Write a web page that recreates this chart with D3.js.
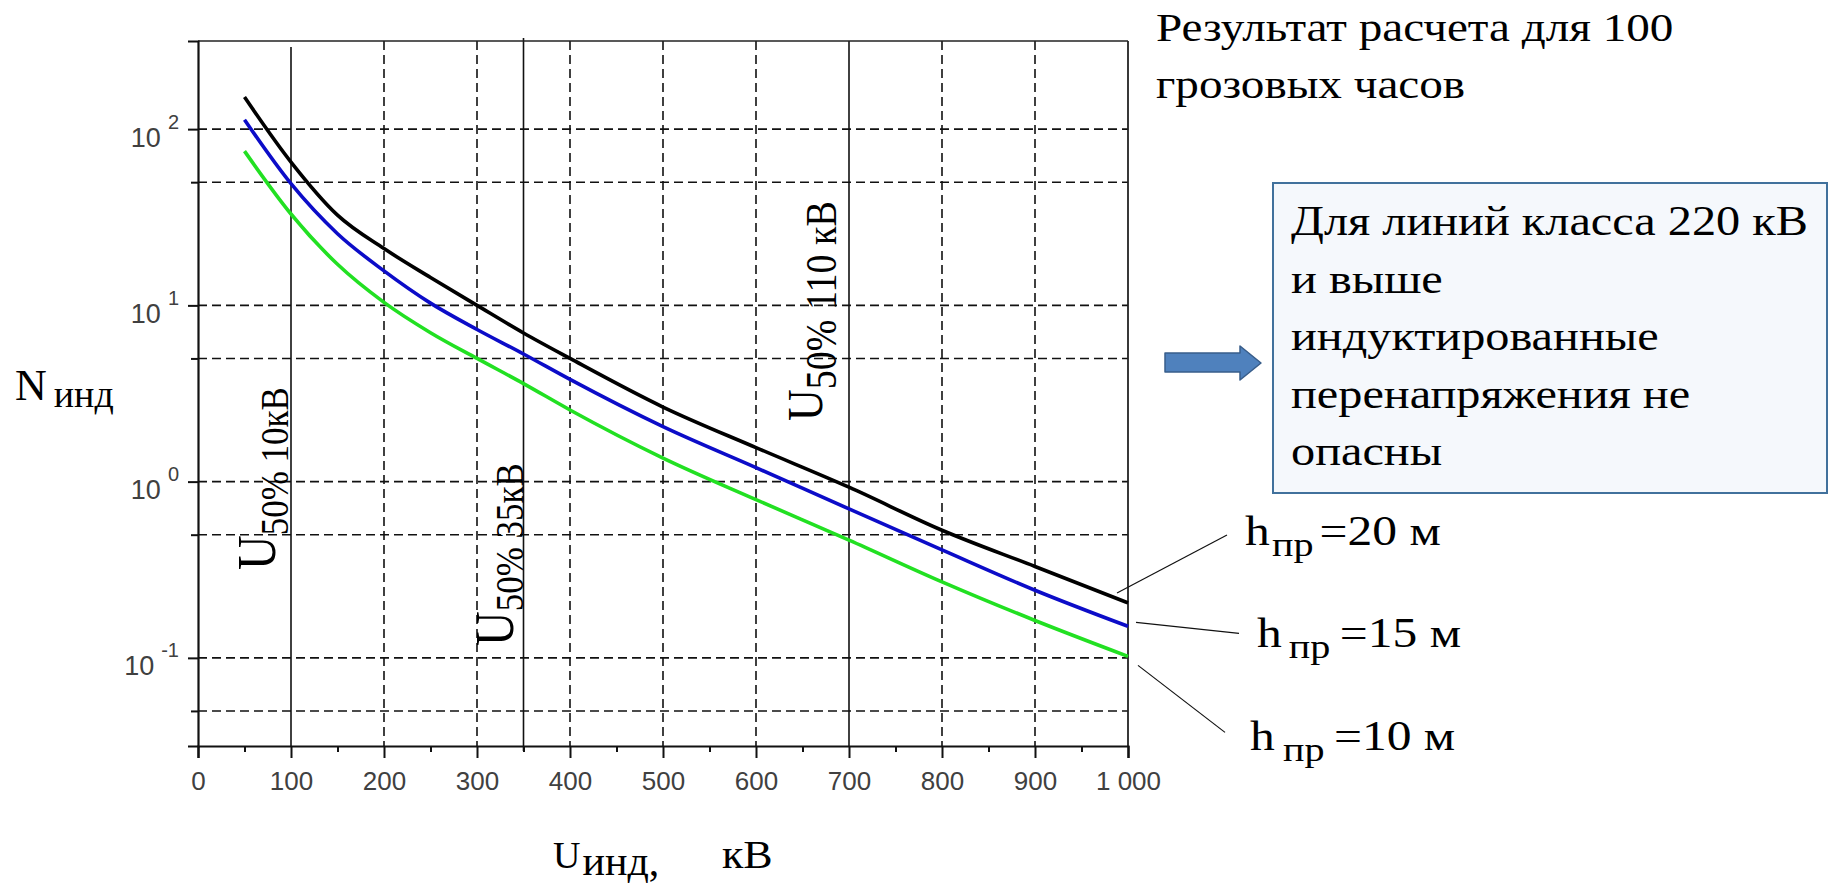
<!DOCTYPE html>
<html>
<head>
<meta charset="utf-8">
<script src="https://cdn.jsdelivr.net/npm/d3@7"></script>
<style>
  body { margin: 0; background: #ffffff; }
  svg { display: block; }
  .tick text { font-family: "Liberation Sans", Arial, sans-serif; fill: #404040; }
</style>
</head>
<body>
<div id="chart"></div>
<script>
const width = 1831;
const height = 893;
const serif = "'Liberation Serif', 'Times New Roman', serif";

// curve data: U_ind (kV) vs N_ind for three wire heights
const uValues = [50, 100, 150, 200, 250, 300, 350, 400, 500, 600, 700, 800, 900, 1000];
const nH20 = [152, 65, 32.5, 21, 14.4, 10, 6.97, 5.0, 2.65, 1.56, 0.93, 0.53, 0.33, 0.205];
const nH15 = [113, 49, 25.5, 15.7, 10.3, 7.3, 5.3, 3.8, 2.05, 1.2, 0.70, 0.41, 0.242, 0.151];
const nH10 = [75, 33, 17.1, 10.4, 7.0, 5.0, 3.6, 2.55, 1.36, 0.79, 0.466, 0.27, 0.163, 0.102];

const seriesNames = ["h20", "h15", "h10"];
const seriesColors = ["#000000", "#0c0cc8", "#22e022"];

// axis ticks and grid
const xTicks = [0, 100, 200, 300, 400, 500, 600, 700, 800, 900, 1000];
const xMinorTicks = [50, 150, 250, 350, 450, 550, 650, 750, 850, 950];
const yTicks = [0.1, 1, 10, 100];
const yTickExp = ["-1", "0", "1", "2"];
const yMinorTicks = [0.05, 0.5, 5, 50];
const xGrid = [200, 300, 400, 500, 600, 800, 900];
const yGrid = [0.05, 0.1, 0.5, 1, 5, 10, 50, 100];

// voltage class markers (solid verticals)
const classU = [100, 350, 700];
const classSub = ["50% 10кВ", "50% 35кВ", "50% 110 кВ"];

// wire height labels
const heightLabels = ["=20 м", "=15 м", "=10 м"];

const boxLines = ["Для линий класса 220 кВ", "и выше", "индуктированные", "перенапряжения не", "опасны"];
const titleLines = ["Результат расчета для 100", "грозовых часов"];

const plotLeft = 198, plotRight = 1128, plotTop = 41, plotBottom = 746;

const svg = d3.select("#chart")
    .append("svg")
    .attr("width", width)
    .attr("height", height);

const x = d3.scaleLinear().domain([0, 1000]).range([plotLeft, plotRight]);
const y = d3.scaleLog().domain([Math.pow(10, -1.5), Math.pow(10, 2.5)]).range([plotBottom, plotTop]);

// dashed grid
svg.append("g")
    .selectAll("line")
    .data(xGrid)
    .join("line")
    .attr("x1", d => x(d)).attr("x2", d => x(d))
    .attr("y1", plotTop).attr("y2", plotBottom)
    .attr("stroke", "#111").attr("stroke-width", 1.6)
    .attr("stroke-dasharray", "9,5");

svg.append("g")
    .selectAll("line")
    .data(yGrid)
    .join("line")
    .attr("x1", plotLeft).attr("x2", plotRight)
    .attr("y1", d => y(d)).attr("y2", d => y(d))
    .attr("stroke", "#111").attr("stroke-width", 1.6)
    .attr("stroke-dasharray", "9,5");

// solid class lines
svg.append("g")
    .selectAll("line")
    .data(classU)
    .join("line")
    .attr("x1", d => x(d)).attr("x2", d => x(d))
    .attr("y1", (d, i) => i === 0 ? plotTop + 6 : (i === 1 ? plotTop - 3 : plotTop))
    .attr("y2", (d, i) => i === 1 ? plotBottom + 5 : plotBottom)
    .attr("stroke", "#111").attr("stroke-width", 1.6);

// frame
svg.append("line").attr("x1", plotLeft).attr("x2", plotRight)
    .attr("y1", plotTop).attr("y2", plotTop)
    .attr("stroke", "#222").attr("stroke-width", 1.6);
svg.append("line").attr("x1", plotRight).attr("x2", plotRight)
    .attr("y1", plotTop).attr("y2", plotBottom)
    .attr("stroke", "#222").attr("stroke-width", 1.8);

// x axis
const xAxis = d3.axisBottom(x)
    .tickValues(xTicks)
    .tickSize(12)
    .tickPadding(14)
    .tickFormat(d => d3.format(",")(d).replace(",", " "));

const gx = svg.append("g")
    .attr("transform", `translate(0,${plotBottom})`)
    .call(xAxis);
gx.select(".domain").attr("stroke", "#111").attr("stroke-width", 2.2);
gx.selectAll(".tick line").attr("stroke", "#111").attr("stroke-width", 2);
gx.selectAll(".tick text").style("font-size", "26px");

svg.append("g")
    .attr("transform", `translate(0,${plotBottom})`)
    .call(d3.axisBottom(x).tickValues(xMinorTicks).tickSize(6).tickFormat(""))
    .call(g => g.select(".domain").remove())
    .selectAll(".tick line").attr("stroke", "#111").attr("stroke-width", 2);

// y axis
const gy = svg.append("g")
    .attr("transform", `translate(${plotLeft},0)`)
    .call(d3.axisLeft(y).tickValues(yTicks).tickSize(10).tickFormat(""));
gy.select(".domain").attr("stroke", "#111").attr("stroke-width", 2.2);
gy.selectAll(".tick line").attr("stroke", "#111").attr("stroke-width", 2);

const yLabel = gy.selectAll(".tick")
    .append("text")
    .attr("text-anchor", "end")
    .attr("x", -19)
    .attr("y", 17)
    .style("font-size", "27px")
    .text("10");
yLabel.append("tspan")
    .attr("dx", 7)
    .attr("dy", -18)
    .style("font-size", "20px")
    .text((d, i) => yTickExp[i]);

svg.append("g")
    .attr("transform", `translate(${plotLeft},0)`)
    .call(d3.axisLeft(y).tickValues(yMinorTicks).tickSize(7).tickFormat(""))
    .call(g => g.select(".domain").remove())
    .selectAll(".tick line").attr("stroke", "#111").attr("stroke-width", 2);

// curves
const allSeries = [nH20, nH15, nH10];
const line = d3.line()
    .x(d => x(d[0]))
    .y(d => y(d[1]))
    .curve(d3.curveMonotoneX);

svg.append("g")
    .selectAll("path")
    .data(allSeries)
    .join("path")
    .attr("class", (d, i) => seriesNames[i])
    .attr("d", s => line(uValues.map((u, i) => [u, s[i]])))
    .attr("fill", "none")
    .attr("stroke", (d, i) => seriesColors[i])
    .attr("stroke-width", 3.6)
    .attr("stroke-linejoin", "round");

// rotated class labels
const classPos = [
    { dx: -16, y: 570, big: 48, sub: 35, shift: 11 },
    { dx: -11, y: 646, big: 48, sub: 35, shift: 9 },
    { dx: -27, y: 421, big: 44, sub: 38, shift: 12 }
];
classU.forEach((u, i) => {
    const p = classPos[i];
    const t = svg.append("text")
        .attr("font-family", serif)
        .attr("transform", `translate(${x(u) + p.dx},${p.y}) rotate(-90) scale(1,1.15)`);
    t.append("tspan").style("font-size", p.big + "px").text("U");
    t.append("tspan").attr("dy", p.shift).style("font-size", p.sub + "px").text(classSub[i]);
});

// axis titles
const nLabel = svg.append("text").attr("font-family", serif)
    .attr("x", 15).attr("y", 400).style("font-size", "44px").text("N");
nLabel.append("tspan").attr("dx", 7).attr("dy", 7).style("font-size", "38px").text("инд");

const uLabel = svg.append("text").attr("font-family", serif)
    .attr("x", 553).attr("y", 868).style("font-size", "38px").text("U");
uLabel.append("tspan").attr("dx", 2).attr("dy", 7).style("font-size", "42px").text("инд,");
svg.append("text").attr("font-family", serif)
    .attr("transform", "translate(722,868) scale(1.1,1)")
    .style("font-size", "40px").text("кВ");

// wire height labels with leader lines
const endVals = allSeries.map(s => s[s.length - 1]);
const leaders = [
    { x1: -11, y1: -10, x2: 99, y2: -68 },
    { x1: 8, y1: -4, x2: 111, y2: 7 },
    { x1: 10, y1: 9, x2: 97, y2: 76 }
];
const hPos = [
    { x: 1245, dy: -58, g1: 2, g2: 5 },
    { x: 1257, dy: 21, g1: 6, g2: 8 },
    { x: 1250, dy: 94, g1: 7, g2: 8 }
];
endVals.forEach((v, i) => {
    const ex = x(1000), ey = y(v);
    const l = leaders[i];
    svg.append("line")
        .attr("x1", ex + l.x1).attr("y1", ey + l.y1)
        .attr("x2", ex + l.x2).attr("y2", ey + l.y2)
        .attr("stroke", "#111").attr("stroke-width", 1.2);
    const p = hPos[i];
    const t = svg.append("text").attr("font-family", serif)
        .attr("transform", `translate(${p.x},${ey + p.dy}) scale(1.18,1)`)
        .style("font-size", "42px");
    t.append("tspan").text("h");
    t.append("tspan").attr("dx", p.g1).attr("dy", 11).style("font-size", "34px").text("пр");
    t.append("tspan").attr("dx", p.g2).attr("dy", -11).text(heightLabels[i]);
});

// title top right
titleLines.forEach((s, i) => {
    svg.append("text").attr("font-family", serif)
        .attr("transform", `translate(1156,${41 + i * 57}) scale(1.15,1)`)
        .style("font-size", "41px")
        .text(s);
});

// note box
svg.append("rect")
    .attr("x", 1273).attr("y", 183)
    .attr("width", 554).attr("height", 310)
    .attr("fill", "#f5f8fc")
    .attr("stroke", "#41719c").attr("stroke-width", 2);
boxLines.forEach((s, i) => {
    svg.append("text").attr("font-family", serif)
        .attr("transform", `translate(1291,${235 + i * 57.5}) scale(1.15,1)`)
        .style("font-size", "42px")
        .text(s);
});

// block arrow
const arrowPts = [[1165, 353], [1240, 353], [1240, 346], [1261, 363], [1240, 380], [1240, 372], [1165, 372]];
svg.append("polygon")
    .attr("points", arrowPts.map(p => p.join(",")).join(" "))
    .attr("fill", "#4f81bd")
    .attr("stroke", "#385d8a")
    .attr("stroke-width", 1.5)
    .attr("stroke-linejoin", "round");
</script>
</body>
</html>
